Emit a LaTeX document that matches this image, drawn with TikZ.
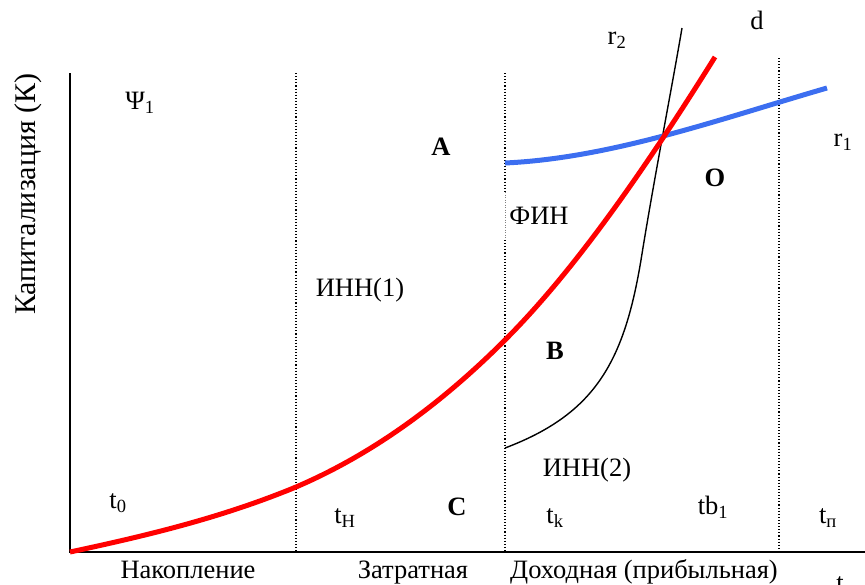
\documentclass[tikz,border=0pt]{standalone}
\usepackage{fontspec}
\setmainfont{Liberation Serif}
\newfontfamily\tnrfont{Liberation Serif}
\begin{document}
\begin{tikzpicture}[x=1pt,y=-1pt,
  lbl/.style={inner sep=0pt,font=\tnrfont\fontsize{26.5}{30}\selectfont},
  blbl/.style={inner sep=0pt,font=\tnrfont\fontsize{26.5}{30}\selectfont\bfseries},
  divider/.style={dotted,line width=1.1pt},
  axisline/.style={line width=1.3pt},
  redcurve/.style={red,line width=5pt},
  bluecurve/.style={color={rgb,255:red,60;green,110;blue,240},line width=5pt},
  blackcurve/.style={black,line width=1.4pt}]
\useasboundingbox (0,0) rectangle (865,584);
% axes
\coordinate (top) at (70,73);
\coordinate (orig) at (70,552);
\coordinate (xend) at (865,552);
\draw[axisline] (top) -- (orig) -- (xend);
% dividers
\coordinate (d1t) at (296,73); \coordinate (d1b) at (296,552);
\coordinate (d2t) at (505,73); \coordinate (d2m) at (505,192); \coordinate (d2n) at (505,240); \coordinate (d2b) at (505,552);
\coordinate (d3t) at (779,58); \coordinate (d3b) at (779,552);
\draw[divider] (d1t) -- (d1b);
\draw[divider] (d2t) -- (d2m);
\draw[dotted,line width=0.5pt,gray] (d2m) -- (d2n);
\draw[divider] (d2n) -- (d2b);
\draw[divider] (d3t) -- (d3b);
% curves
\coordinate (k0) at (505,448);
\coordinate (k1) at (641,260);
\coordinate (k2) at (682,28);
\draw[blackcurve] (k0) .. controls (595,414) and (624,362) .. (k1)
                       .. controls (653.8,180) and (671.8,88) .. (k2);
\coordinate (b0) at (505,163);
\coordinate (b1) at (827,88);
\draw[bluecurve] (b0) .. controls (612,158) and (720,119) .. (b1);
\coordinate (p1) at (296,487);
\coordinate (p2) at (505,340);
\coordinate (p3) at (715,57);
\draw[redcurve] (orig) .. controls (145,536) and (221,518) .. (p1)
                       .. controls (366,457) and (435,410) .. (p2)
                       .. controls (575,270) and (645,169) .. (p3);
% labels
\node[lbl,rotate=90,font=\tnrfont\fontsize{30}{34}\selectfont] (ylab) at (28,194) {Капитализация (К)};
\node[lbl] (psi) at (140,103) {Ψ\textsubscript{1}};
\node[blbl] (A) at (441,147) {A};
\node[lbl] (r2) at (617,40) {r\textsubscript{2}};
\node[lbl] (d) at (757,20) {d};
\node[lbl] (r1) at (843,142) {r\textsubscript{1}};
\node[blbl] (O) at (715,178) {O};
\node[lbl] (fin) at (539,216) {ФИН};
\node[lbl] (inn1) at (360,290) {ИНН(1)};
\node[blbl] (B) at (555,351) {B};
\node[lbl] (inn2) at (587,470) {ИНН(2)};
\node[lbl] (t0) at (118,503) {t\textsubscript{0}};
\node[lbl] (tH) at (345,518) {t\textsubscript{Н}};
\node[blbl] (C) at (457,507) {C};
\node[lbl] (tk) at (555,518) {t\textsubscript{k}};
\node[lbl] (tb1) at (713,507) {tb\textsubscript{1}};
\node[lbl] (tp) at (828,518) {t\textsubscript{п}};
\node[lbl,anchor=base] (nak) at (188,578) {Накопление};
\node[lbl,anchor=base] (zat) at (413,578) {Затратная};
\node[lbl,anchor=base] (doh) at (644,578) {Доходная (прибыльная)};
\node[lbl] (t) at (840,584) {t};
\end{tikzpicture}
\end{document}
